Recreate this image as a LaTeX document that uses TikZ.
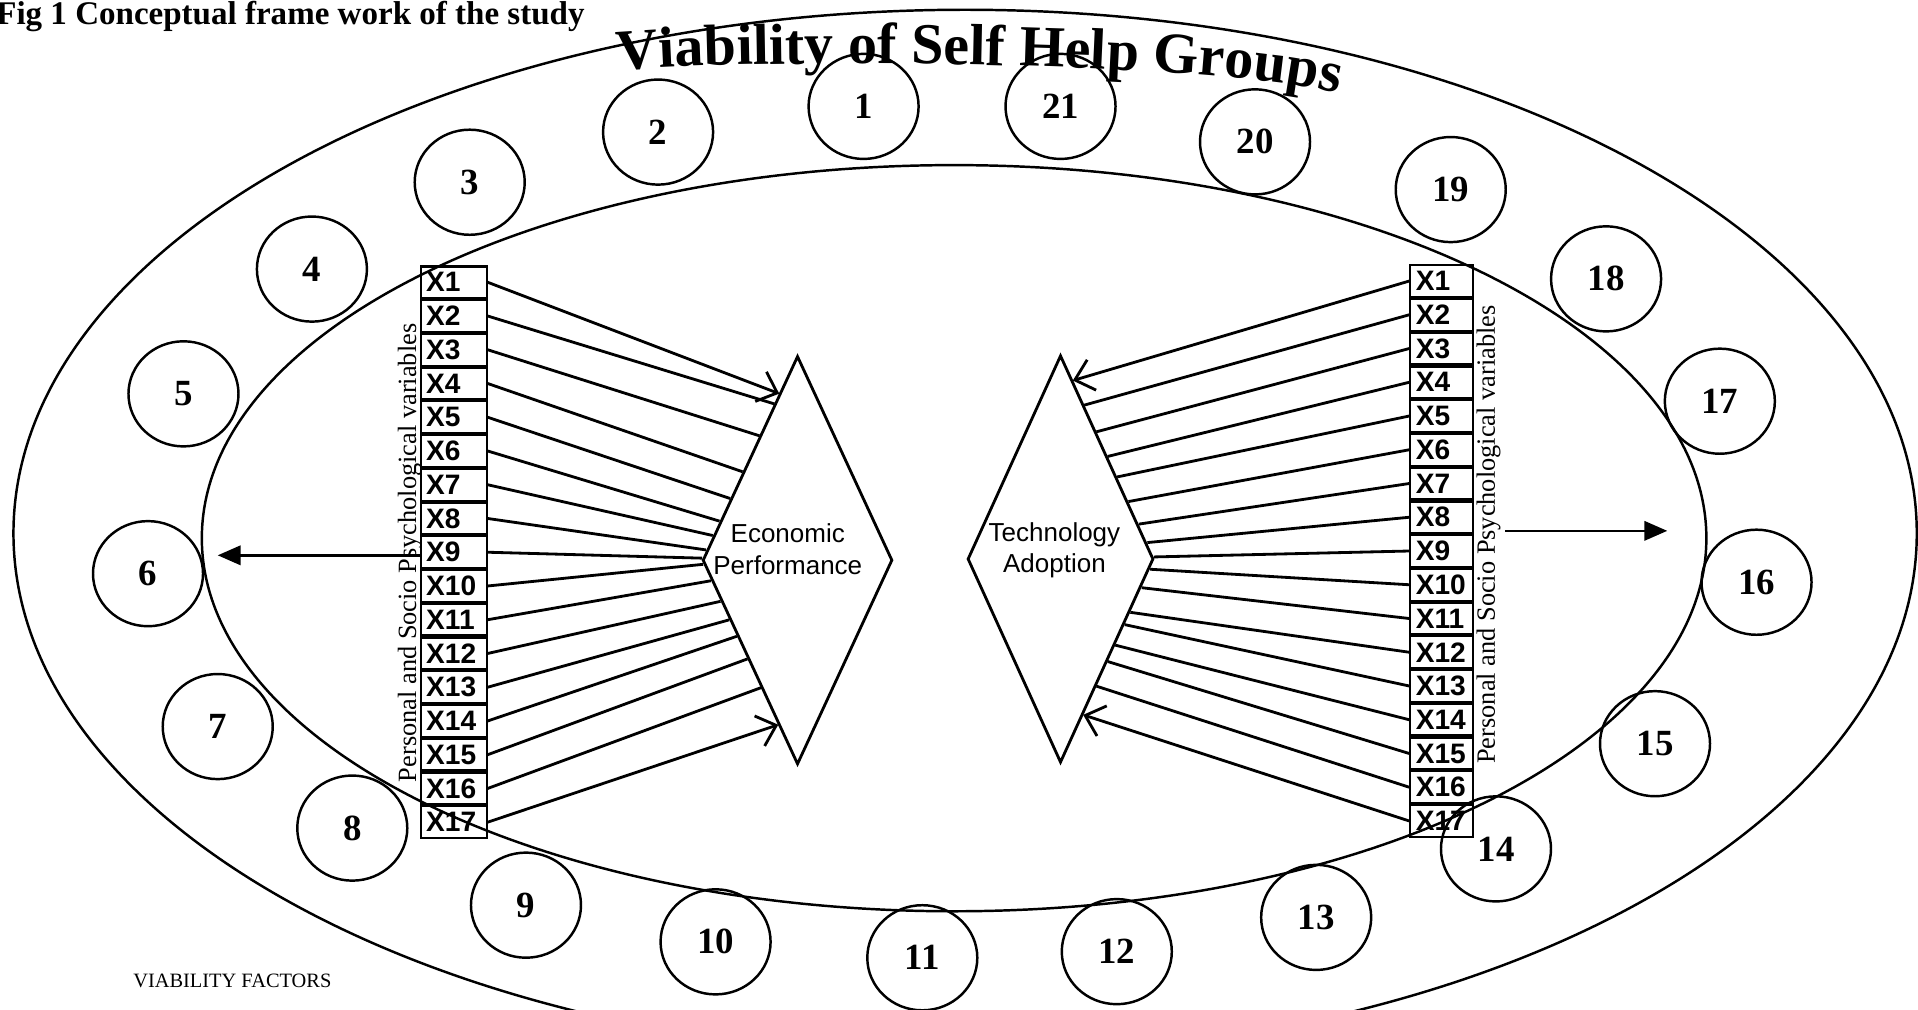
\documentclass[tikz,border=0pt]{standalone}
\usepackage{fontspec}
\setmainfont{Liberation Serif}
\setsansfont{Liberation Sans}
\usetikzlibrary{arrows.meta,positioning,calc,shapes.geometric,decorations.text}

\begin{document}
\begin{tikzpicture}[
    x=0.12232mm, y=0.12232mm, line width=0.7pt,
    fac/.style={ellipse,draw,minimum width=31.3pt,minimum height=29.9pt,inner sep=0pt,
                font=\fontsize{10.5}{12}\selectfont\bfseries},
    cell/.style={rectangle,draw,line width=0.6pt,minimum height=9pt,inner ysep=0pt,
                 inner xsep=1.6pt,text width=15.6pt,align=left,
                 font=\sffamily\bfseries\fontsize{8}{8}\selectfont},
    rcell/.style={cell,text width=14.6pt},
    perf/.style={diamond,draw,line width=0.8pt,inner sep=0pt},
    ptxt/.style={align=center,font=\sffamily\fontsize{7.4}{9}\selectfont},
    var/.style={rotate=90,inner sep=1pt,font=\fontsize{7.5}{8}\selectfont},
    fan/.style={line width=0.8pt},
    fanarr/.style={fan,-{Straight Barb[length=5pt,width=9pt]}},
    side/.style={line width=0.7pt,-{Triangle[length=6.5pt,width=5.5pt]}}]

  \useasboundingbox (0,0) rectangle (1568,825);
  \clip (0,0) rectangle (1568,825);

  % ---------------- the two rings and the curved title
  \draw (789,389) ellipse [x radius=778, y radius=428];
  \draw (780,385) ellipse [x radius=615, y radius=305];

  \path[decorate,decoration={text along path,text align=center,
        text={|\fontsize{16.5}{20}\selectfont\bfseries|Viability of Self Help Groups}}]
        (486,765) .. controls (560,778) and (1040,778) .. (1112,742);

  \node[anchor=base west,inner sep=0pt,font=\fontsize{9.4}{11}\selectfont\bfseries] (cap)
       at (-4,805) {Fig 1 Conceptual frame work of the study};
  \node[anchor=base west,inner sep=0pt,font=\fontsize{5.8}{7}\selectfont] (vf)
       at (108,18) {VIABILITY FACTORS};

  % ---------------- the 21 viability factors round the ring
  \foreach \n/\x/\y in {1/706/738, 2/538/717, 3/384/676, 4/255/605, 5/150/503,
                        6/121/356, 7/178/231, 8/288/148, 9/430/85, 10/585/55,
                        11/754/42, 12/913/47, 13/1076/75, 14/1223/131, 15/1353/217,
                        16/1436/349, 17/1406/497, 18/1313/597, 19/1186/670,
                        20/1026/709, 21/867/738}
    \node[fac] (f\n) at (\x,\y) {\n};

  % ---------------- variable columns
  \node[cell,anchor=north west] (l1) at (343,608) {X1};
  \foreach \i [count=\j] in {2,...,17}
    \node[cell,below=0pt of l\j] (l\i) {X\i};
  \node[var] (lvar) at (335,373) {Personal and Socio Psychological variables};

  \node[rcell,anchor=north west] (r1) at (1152,609) {X1};
  \foreach \i [count=\j] in {2,...,17}
    \node[rcell,below=0pt of r\j] (r\i) {X\i};
  \node[var] (rvar) at (1217,388) {Personal and Socio Psychological variables};

  % ---------------- the two outcomes
  \node[perf,minimum width=54pt,minimum height=116.2pt] (ep) at (652,367) {};
  \node[ptxt] (eptxt) at (644,376) {Economic\\Performance};
  \node[perf,minimum width=52.9pt,minimum height=115.9pt] (ta) at (867,368) {};
  \node[ptxt] (tatxt) at (862,375) {Technology\\Adoption};

  % ---------------- fans into the diamonds
  \foreach \i/\f/\s in {1/.19/fanarr,2/.24/fan,3/.395/fan,4/.57/fan,5/.70/fan,
                        6/.81/fan,7/.88/fan,8/.95/fan,9/.99/fan}
    \draw[\s] (l\i.east) -- ($(ep.north)!\f!(ep.west)$);
  \foreach \i/\f/\s in {10/.02/fan,11/.10/fan,12/.20/fan,13/.29/fan,14/.37/fan,
                        15/.48/fan,16/.62/fan,17/.80/fanarr}
    \draw[\s] (l\i.east) -- ($(ep.west)!\f!(ep.south)$);

  \foreach \i/\f/\s in {1/.13/fanarr,2/.25/fan,3/.38/fan,4/.50/fan,5/.60/fan,
                        6/.72/fan,7/.83/fan,8/.92/fan,9/.99/fan}
    \draw[\s] (r\i.west) -- ($(ta.north)!\f!(ta.east)$);
  \foreach \i/\f/\s in {10/.05/fan,11/.14/fan,12/.26/fan,13/.32/fan,14/.42/fan,
                        15/.50/fan,16/.62/fan,17/.76/fanarr}
    \draw[\s] (r\i.west) -- ($(ta.east)!\f!(ta.south)$);

  % ---------------- arrows out to the ring
  \coordinate (ltip) at (178,371);
  \coordinate (rtip) at (1363,391);
  \draw[side] (l10.west |- ltip) -- (ltip);
  \draw[side] (rvar.south |- rtip) -- (rtip);
\end{tikzpicture}
\end{document}
